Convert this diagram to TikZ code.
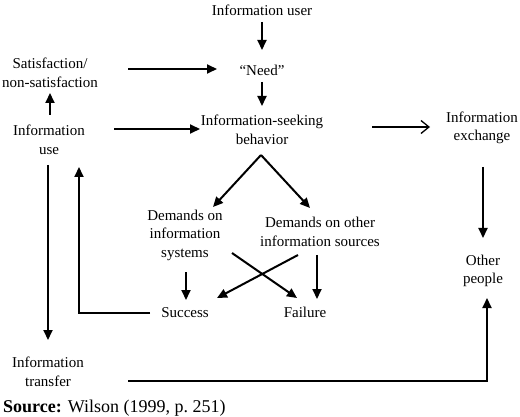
\documentclass[tikz,border=0pt]{standalone}
\usepackage{fontspec}
\setmainfont{Liberation Serif}
\usetikzlibrary{arrows.meta,calc}
\begin{document}
\begin{tikzpicture}[x=1pt,y=-1pt,
  lab/.style={font=\fontsize{15}{18.5}\selectfont, align=center, inner sep=0pt},
  arr/.style={line width=2pt, -{Triangle[length=10pt,width=9pt]}},
  thinarr/.style={line width=1.3pt, -{Straight Barb[length=8pt,width=13pt]}},
  ln/.style={line width=2pt}]
\useasboundingbox (0,0) rectangle (520,417);
\node[lab] (user) at (262,10) {Information user};
\node[lab] (need) at (262,70) {“Need”};
\node[lab] (sat) at (50,73) {Satisfaction/\\non-satisfaction};
\node[lab] (use) at (49,140) {Information\\use};
\node[lab] (seek) at (262,130) {Information-seeking\\behavior};
\node[lab] (exch) at (482,128) {Information\\exchange};
\node[lab] (other) at (483,271) {Other\\people};
\node[lab] (dsys) at (185,235) {Demands on\\information\\systems};
\node[lab] (doth) at (320,232) {Demands on other\\information sources};
\node[lab] (succ) at (185,313) {Success};
\node[lab] (fail) at (305,312) {Failure};
\node[lab] (trans) at (48,372) {Information\\transfer};
\node[anchor=west, inner sep=0pt, font=\fontsize{18}{20}\selectfont] (src) at (3,408) {\textbf{Source:} Wilson (1999, p.\ 251)};

\draw[arr] ($(user)+(0,12)$) -- ($(need)+(0,-20)$);
\draw[arr] ($(need)+(0,12)$) -- ($(seek)+(0,-24)$);
\draw[arr] ($(sat)+(78,-4)$) -- ($(need)+(-45,-1)$);
\draw[arr] ($(use)+(1,-25)$) -- ($(sat)+(0,20)$);
\draw[arr] ($(use)+(65,-11)$) -- ($(seek)+(-62,-1)$);
\draw[thinarr] ($(seek)+(110,-3)$) -- ($(exch)+(-52,-1)$);
\draw[arr] ($(exch)+(1,39)$) -- ($(other)+(0,-33)$);
\draw[arr] ($(seek)+(-1,25)$) -- ($(dsys)+(28,-28)$);
\draw[arr] ($(seek)+(-1,25)$) -- ($(doth)+(-10,-24)$);
\draw[arr] ($(dsys)+(1,37)$) -- ($(succ)+(1,-13)$);
\draw[arr] ($(doth)+(-3,23)$) -- ($(fail)+(12,-13)$);
\draw[arr] ($(dsys)+(47,18)$) -- ($(fail)+(-8,-14)$);
\draw[arr] ($(doth)+(-22,23)$) -- ($(succ)+(32,-15)$);
\draw[arr] ($(succ)+(-35,0)$) -| ($(use)+(30,27)$);
\draw[arr] ($(use)+(-1,25)$) -- ($(trans)+(0,-32)$);
\draw[arr] ($(trans)+(80,9)$) -| ($(other)+(4,27)$);
\end{tikzpicture}
\end{document}
